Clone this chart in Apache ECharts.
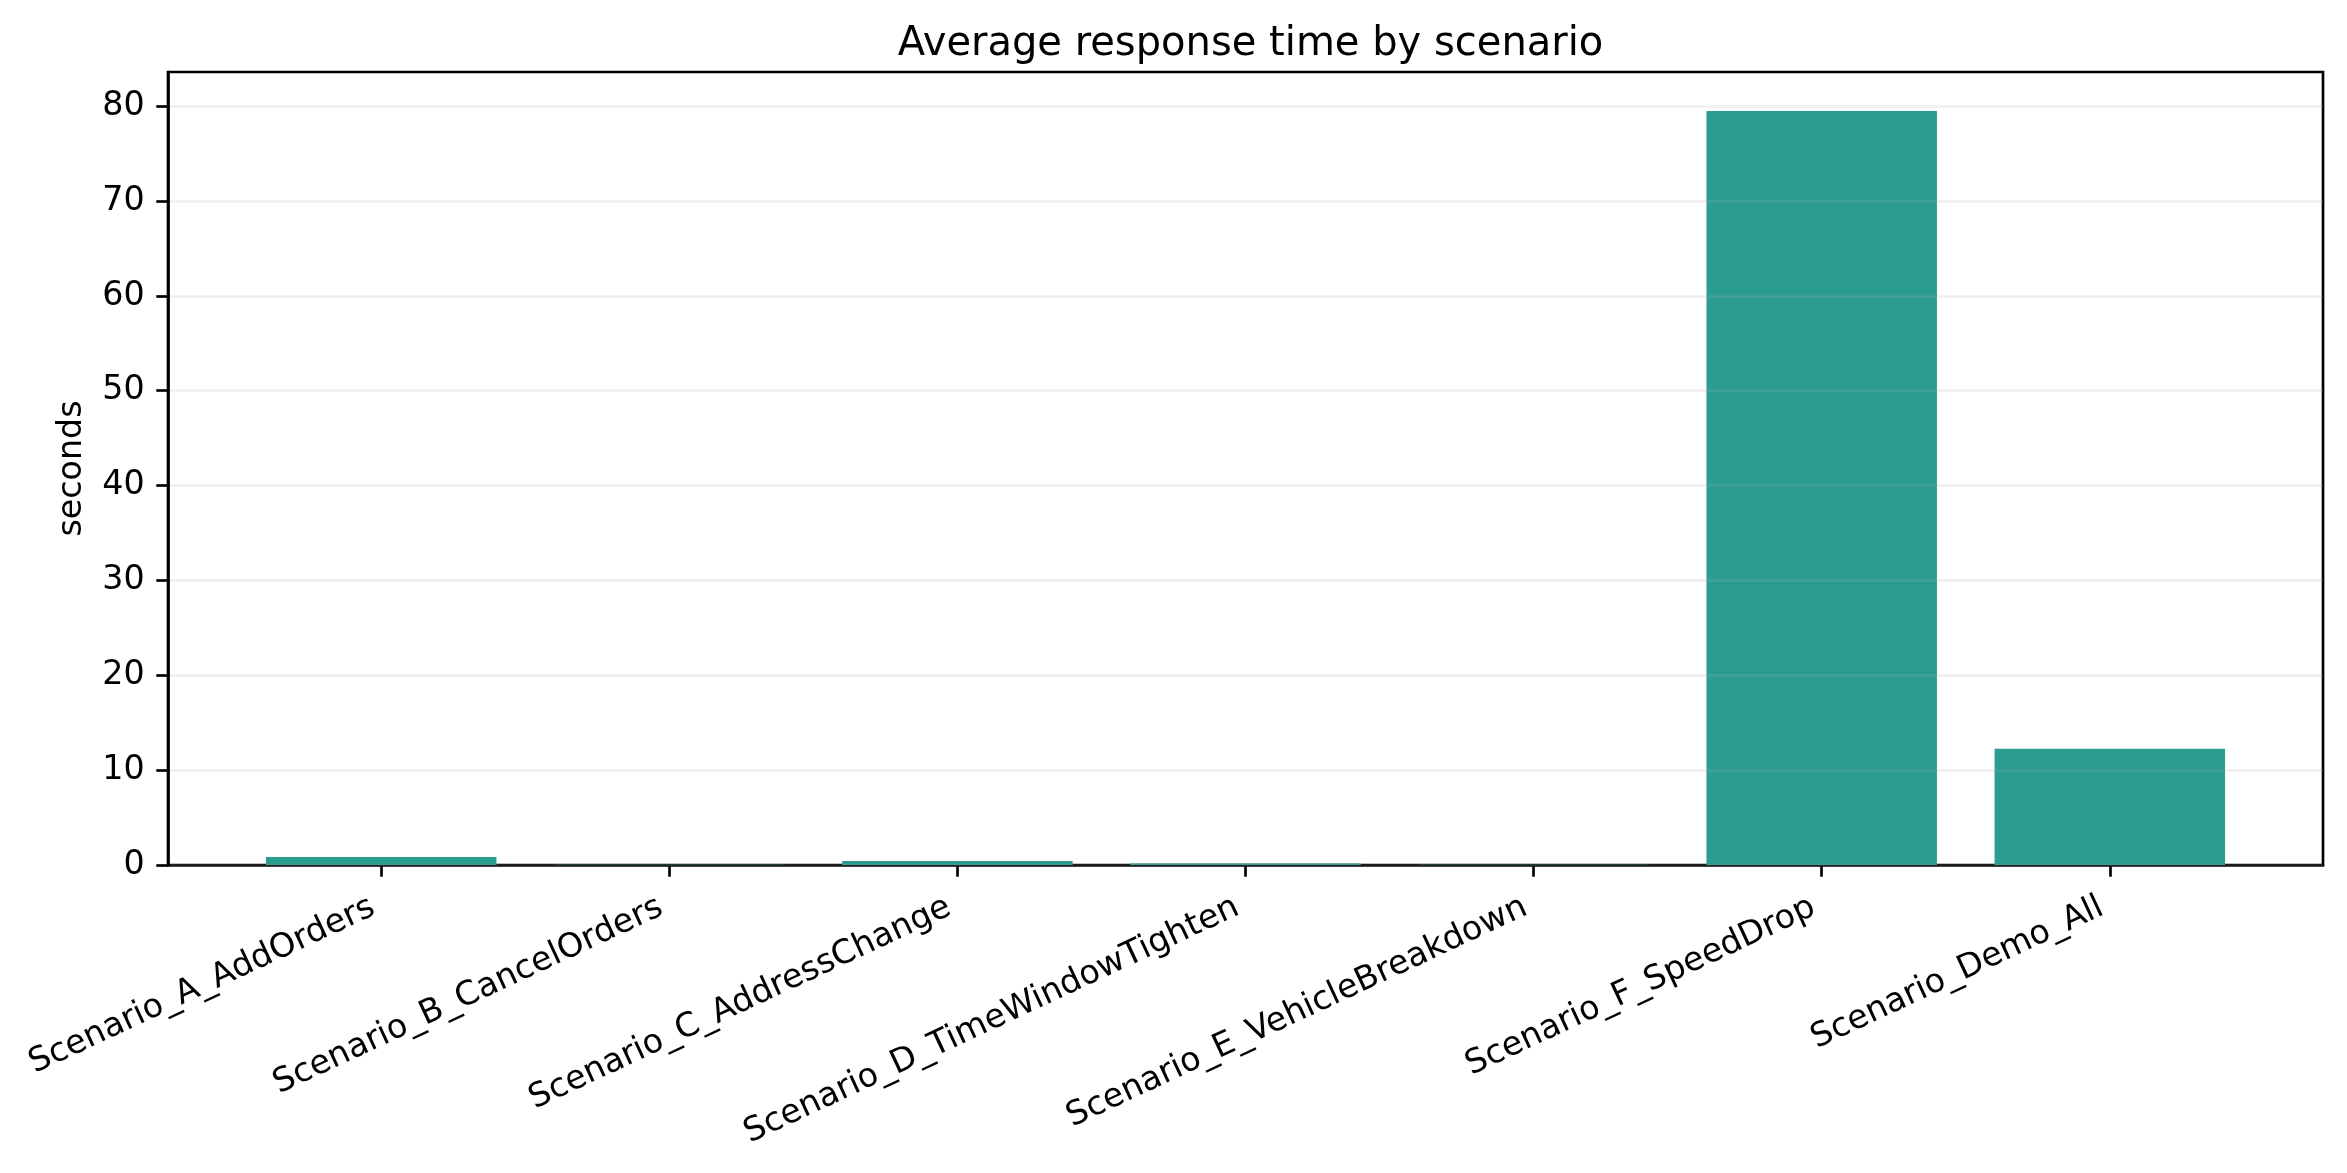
<!DOCTYPE html>
<html>
<head>
<meta charset="utf-8">
<script src="https://cdn.jsdelivr.net/npm/echarts@6/dist/echarts.min.js"></script>
<style>
html,body{margin:0;padding:0;background:#ffffff;}
#chart{width:2347px;height:1173px;}
</style>
</head>
<body>
<div id="chart"></div>
<script>
const categories = [
  "Scenario_A_AddOrders",
  "Scenario_B_CancelOrders",
  "Scenario_C_AddressChange",
  "Scenario_D_TimeWindowTighten",
  "Scenario_E_VehicleBreakdown",
  "Scenario_F_SpeedDrop",
  "Scenario_Demo_All"
];
const avgSeconds = [0.85, 0.02, 0.42, 0.15, 0.03, 79.5, 12.25];
const yTicks = [0, 10, 20, 30, 40, 50, 60, 70, 80];
const titleText = "Average response time by scenario";
const yLabel = "seconds";

const W = 2347, H = 1173;
const gridLeft = 168, gridRight = 24, gridTop = 72, gridBottom = 308;
const xMin = -0.74, xMax = categories.length - 1 + 0.74;
const gridW = W - gridLeft - gridRight;
const unitPx = gridW / (xMax - xMin);
const barW = 0.8 * unitPx;
const xPos = categories.map((_, i) => i);
const font = "DejaVu Sans";
const lw = 2.67;
const tickLen = 11.7;
const labelSize = 33.3;

const chart = echarts.init(document.getElementById('chart'), null, {renderer: 'canvas'});
chart.setOption({
  animation: false,
  backgroundColor: '#ffffff',
  title: {
    text: titleText,
    left: gridLeft + gridW / 2,
    textAlign: 'center',
    top: 20,
    textStyle: {fontFamily: font, fontSize: 40, fontWeight: 'normal', color: '#000'}
  },
  grid: {
    left: gridLeft, right: gridRight, top: gridTop, bottom: gridBottom,
    show: true, borderColor: '#000', borderWidth: lw, backgroundColor: 'transparent',
    containLabel: false
  },
  xAxis: {
    type: 'value',
    min: xMin, max: xMax,
    axisLine: {show: true, onZero: false, lineStyle: {color: '#000', width: lw}},
    axisTick: {show: true, customValues: xPos, length: tickLen, lineStyle: {color: '#000', width: lw}},
    axisLabel: {
      show: true, customValues: xPos,
      formatter: v => categories[Math.round(v)],
      rotate: 25, margin: 37, padding: [0, 9, 0, 0],
      fontFamily: font, fontSize: labelSize, color: '#000'
    },
    splitLine: {show: false}
  },
  yAxis: {
    type: 'value',
    min: 0, max: 83.6, interval: 10,
    z: 5,
    name: yLabel, nameLocation: 'middle', nameGap: 79,
    nameTextStyle: {fontFamily: font, fontSize: labelSize, color: '#000'},
    axisLine: {show: true, onZero: false, lineStyle: {color: '#000', width: lw}},
    axisTick: {show: true, customValues: yTicks, length: tickLen, lineStyle: {color: '#000', width: lw}},
    axisLabel: {show: true, customValues: yTicks, margin: 23.4, fontFamily: font, fontSize: labelSize, color: '#000'},
    splitLine: {show: true, lineStyle: {color: 'rgba(176,176,176,0.2)', width: lw}}
  },
  series: [{
    type: 'bar',
    data: avgSeconds.map((v, i) => [xPos[i], v]),
    barWidth: barW,
    itemStyle: {color: '#2a9d8f'},
    z: 2
  }]
});
</script>
</body>
</html>
